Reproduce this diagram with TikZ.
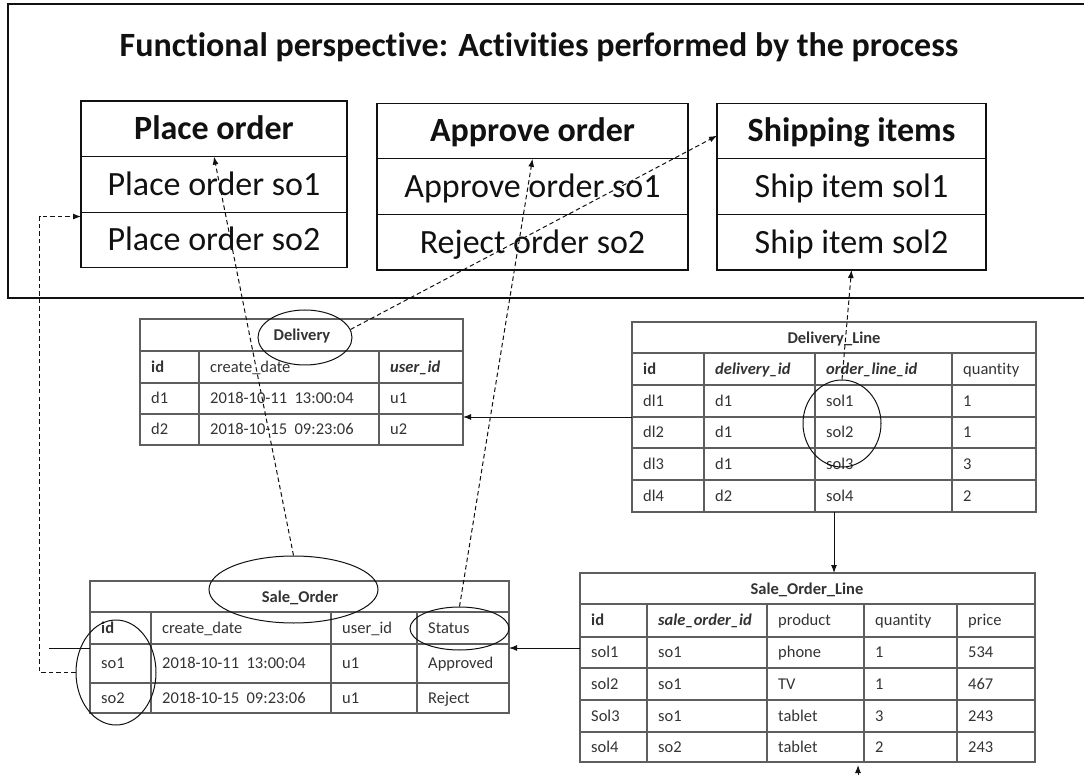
\documentclass[tikz,border=0pt]{standalone}
\usepackage{fontspec}
\setmainfont{Carlito}[Ligatures=NoCommon]
\usepackage{tikz}
\usetikzlibrary{positioning,arrows.meta,calc,shapes.geometric}
\definecolor{ink}{HTML}{111111}
\definecolor{cellink}{HTML}{333333}
\definecolor{grid}{HTML}{5E5E5E}
\newcommand{\dtgap}{\hspace{0.45em}}

\tikzset{
  actbox/.style={draw=ink,line width=1.2pt,minimum height=55.6pt,inner sep=0pt,outer sep=0pt,
    text height=22pt,text depth=0pt,text=ink,font=\fontsize{34}{40}\selectfont},
  tbl/.style={draw=grid,line width=1.3pt},
  tblframe/.style={tbl,inner sep=0pt,outer sep=0pt},
  cell/.style={anchor=west,inner sep=0pt,text height=10.5pt,text depth=0pt,text=cellink,
    font=\fontsize{16.5}{20}\selectfont},
  tbltitle/.style={cell,anchor=center,font=\fontsize{16.5}{20}\selectfont\bfseries},
  ring/.style={draw=ink,ellipse,line width=1pt,inner sep=0pt},
  link/.style={ink,line width=1pt,dash pattern=on 4.5pt off 3pt,-{Latex[length=8pt,width=6pt]}},
  fk/.style={ink,line width=1pt,-{Latex[length=8pt,width=6pt]}}
}

\begin{document}
\begin{tikzpicture}[x=1pt,y=-1pt]
  \useasboundingbox (0,0) rectangle (1084,775);
  % functional perspective
  \draw[ink,line width=1.2pt] (1084,4) -- (8,4) -- (8,298) -- (1084,298);
  \node[anchor=base,text=ink,font=\fontsize{34}{40}\selectfont\bfseries] (title) at (539,57)
    {Functional perspective: Activities performed by the process};

  \node[actbox,minimum width=266pt,font=\fontsize{34}{40}\selectfont\bfseries] (po) at (214,128.8) {Place order};
  \node[actbox,minimum width=266pt,below=0pt of po] (po1) {Place order so1};
  \node[actbox,minimum width=266pt,below=0pt of po1] (po2) {Place order so2};

  \node[actbox,minimum width=311pt,font=\fontsize{34}{40}\selectfont\bfseries] (ao) at (532.5,131) {Approve order};
  \node[actbox,minimum width=311pt,below=0pt of ao] (ao1) {Approve order so1};
  \node[actbox,minimum width=311pt,below=0pt of ao1] (ao2) {Reject order so2};

  \node[actbox,minimum width=269pt,font=\fontsize{34}{40}\selectfont\bfseries] (sh) at (851.5,131) {Shipping items};
  \node[actbox,minimum width=269pt,below=0pt of sh] (sh1) {Ship item sol1};
  \node[actbox,minimum width=269pt,below=0pt of sh1] (sh2) {Ship item sol2};

  % Delivery
  \node[tblframe,minimum width=323pt,minimum height=126pt] (dv) at (301.5,382) {};
  \foreach \y in {351,383,414} \draw[tbl] (140,\y) -- (463,\y);
  \foreach \x in {199,379} \draw[tbl] (\x,351) -- (\x,445);
  \node[tbltitle] (dvT) at (302,335) {Delivery};
  \foreach \c/\x/\t in {1/140/\textbf{id},2/199/create\_date,3/379/\textbf{\textit{user\_id}}}
    \node[cell] (dv-0-\c) at (\x+11,367) {\t};
  \foreach \r/\y/\a/\b/\u in {1/398.5/d1/2018-10-11\dtgap13:00:04/u1,2/429.5/d2/2018-10-15\dtgap09:23:06/u2}{
    \node[cell] (dv-\r-1) at (151,\y) {\a};
    \node[cell] (dv-\r-2) at (210,\y) {\b};
    \node[cell] (dv-\r-3) at (390,\y) {\u};}
  \node[ring,minimum width=94pt,minimum height=55pt] (dvE) at (305,337.5) {};

  % Delivery_Line
  \node[tblframe,minimum width=404pt,minimum height=190pt] (dl) at (834,417) {};
  \foreach \y in {353,385,417,448,480} \draw[tbl] (632,\y) -- (1036,\y);
  \foreach \x in {704,815,952} \draw[tbl] (\x,353) -- (\x,512);
  \node[tbltitle] (dlT) at (834,338) {Delivery\_Line};
  \foreach \c/\x/\t in {1/632/\textbf{id},2/704/\textbf{\textit{delivery\_id}},3/815/\textbf{\textit{order\_line\_id}},4/952/quantity}
    \node[cell] (dl-0-\c) at (\x+11,369) {\t};
  \foreach \r/\y/\a/\b/\s/\q in {1/401/dl1/d1/sol1/1,2/432.5/dl2/d1/sol2/1,3/464/dl3/d1/sol3/3,4/496/dl4/d2/sol4/2}{
    \node[cell] (dl-\r-1) at (643,\y) {\a};
    \node[cell] (dl-\r-2) at (715,\y) {\b};
    \node[cell] (dl-\r-3) at (826,\y) {\s};
    \node[cell] (dl-\r-4) at (963,\y) {\q};}
  \node[ring,minimum width=78pt,minimum height=87pt] (dlE) at (842,423.5) {};

  % Sale_Order
  \node[tblframe,minimum width=419pt,minimum height=132pt] (so) at (299.5,647) {};
  \foreach \y in {612,644,683} \draw[tbl] (90,\y) -- (509,\y);
  \foreach \x in {151,331,417} \draw[tbl] (\x,612) -- (\x,713);
  \node[tbltitle] (soT) at (300,597) {Sale\_Order};
  \foreach \c/\x/\t in {1/90/\textbf{id},2/151/create\_date,3/331/user\_id,4/417/Status}
    \node[cell] (so-0-\c) at (\x+11,628) {\t};
  \foreach \r/\y/\a/\b/\u/\s in {1/663.5/so1/2018-10-11\dtgap13:00:04/u1/Approved,2/698/so2/2018-10-15\dtgap09:23:06/u1/Reject}{
    \node[cell] (so-\r-1) at (101,\y) {\a};
    \node[cell] (so-\r-2) at (162,\y) {\b};
    \node[cell] (so-\r-3) at (342,\y) {\u};
    \node[cell] (so-\r-4) at (428,\y) {\s};}
  \node[ring,minimum width=169pt,minimum height=67pt] (soE) at (293.5,589.5) {};
  \node[ring,minimum width=99pt,minimum height=43pt] (stE) at (459.5,628.5) {};
  \node[ring,minimum width=80pt,minimum height=105pt] (idE) at (116,672.5) {};

  % Sale_Order_Line
  \node[tblframe,minimum width=455pt,minimum height=189pt] (sol) at (807.5,667.5) {};
  \foreach \y in {604,637,668,700,732} \draw[tbl] (580,\y) -- (1035,\y);
  \foreach \x in {647,767,864,957} \draw[tbl] (\x,604) -- (\x,762);
  \node[tbltitle] (solT) at (807,589.5) {Sale\_Order\_Line};
  \foreach \c/\x/\t in {1/580/\textbf{id},2/647/\textbf{\textit{sale\_order\_id}},3/767/product,4/864/quantity,5/957/price}
    \node[cell] (sol-0-\c) at (\x+11,620.5) {\t};
  \foreach \r/\y/\a/\b/\p/\q/\m in {1/652.5/sol1/so1/phone/1/534,2/684/sol2/so1/TV/1/467,3/716/Sol3/so1/tablet/3/243,4/747/sol4/so2/tablet/2/243}{
    \node[cell] (sol-\r-1) at (591,\y) {\a};
    \node[cell] (sol-\r-2) at (658,\y) {\b};
    \node[cell] (sol-\r-3) at (778,\y) {\p};
    \node[cell] (sol-\r-4) at (875,\y) {\q};
    \node[cell] (sol-\r-5) at (968,\y) {\m};}

  % links to the activities
  \draw[link] (soE.north) -- (po.south);
  \draw[link] (stE.north) -- (ao.south);
  \draw[link] (dvE.10) -- (sh.182);
  \draw[link] (dlE.north) -- (sh2.south);
  \draw[link] (idE.west) -- ++(-36,0) |- (po2.170);

  % keys between tables
  \coordinate (dlrow) at (632,417);
  \draw[fk] (dlrow) -- (dlrow -| dv.east);
  \draw[fk] (dl.south) -- (dl.south |- sol.north);
  \coordinate (solrow) at (580,648);
  \draw[fk] (solrow) -- (solrow -| so.east);
  \coordinate (sostub) at (90,648);
  \draw[ink,line width=1pt] (sostub) -- ++(-41,0);
  \coordinate (solin) at (858,775);
  \draw[fk] (solin) -- ++(0,-10);
\end{tikzpicture}
\end{document}
